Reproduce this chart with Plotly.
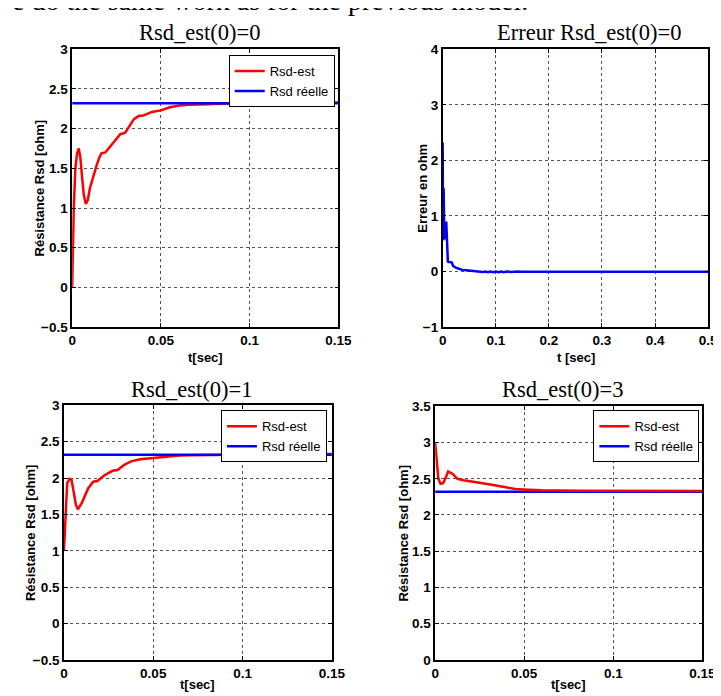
import plotly.graph_objects as go

W, H = 721, 696

# ---------------- data ----------------
rsd_reel = 2.32

# Plot 1 : Rsd_est(0)=0
t1 = [0, 0.0009, 0.0018, 0.0027, 0.0037, 0.0046, 0.0055, 0.0066, 0.0077, 0.0088,
      0.010, 0.0119, 0.0137, 0.0152, 0.0165, 0.0187, 0.0208, 0.0229, 0.025, 0.0271,
      0.0299, 0.032, 0.0348, 0.0375, 0.040, 0.0449, 0.050, 0.055, 0.0604, 0.066,
      0.0714, 0.078, 0.09, 0.11, 0.13, 0.15]
v1 = [0, 1.0, 1.49, 1.68, 1.75, 1.64, 1.41, 1.16, 1.05, 1.10,
      1.25, 1.41, 1.53, 1.63, 1.69, 1.70, 1.76, 1.82, 1.88, 1.93,
      1.95, 2.03, 2.12, 2.16, 2.165, 2.21, 2.23, 2.27, 2.29, 2.30,
      2.305, 2.31, 2.316, 2.325, 2.328, 2.328]

# Plot 2 : Erreur Rsd_est(0)=0
te = [0, 0.0004, 0.0008, 0.0018, 0.0025, 0.0031, 0.0043, 0.0055, 0.0067, 0.0074,
      0.008, 0.0089, 0.0098, 0.0122, 0.017, 0.0196, 0.0245, 0.0306, 0.037, 0.049,
      0.061, 0.07, 0.075, 0.08, 0.085, 0.09, 0.095, 0.10, 0.105, 0.11, 0.115,
      0.12, 0.13, 0.14, 0.15, 0.2, 0.3, 0.4, 0.5]
ve = [2.32, 1.2, 0.56, 1.5, 0.6, 0.58, 0.72, 0.62, 0.9, 0.7,
      0.56, 0.6, 0.18, 0.17, 0.165, 0.1, 0.07, 0.05, 0.03, 0.02,
      0.01, 0.0, -0.01, 0.0, -0.01, 0.0, -0.01, 0.0, -0.01, 0.0, -0.01,
      0.0, -0.008, 0.0, -0.005, -0.003, -0.003, -0.003, -0.003]

# Plot 3 : Rsd_est(0)=1
t3 = [0, 0.0009, 0.0018, 0.0031, 0.0042, 0.0055, 0.0067, 0.0078, 0.010, 0.0136,
      0.0164, 0.0187, 0.0227, 0.0273, 0.030, 0.0336, 0.0376, 0.0427, 0.050, 0.0573,
      0.0645, 0.071, 0.085, 0.10, 0.12, 0.15]
v3 = [1.0, 1.57, 1.93, 1.99, 1.98, 1.80, 1.63, 1.57, 1.66, 1.86,
      1.95, 1.96, 2.04, 2.10, 2.11, 2.18, 2.23, 2.26, 2.28, 2.30,
      2.31, 2.315, 2.32, 2.328, 2.33, 2.33]

# Plot 4 : Rsd_est(0)=3
t4 = [0, 0.0004, 0.0009, 0.0018, 0.003, 0.0045, 0.006, 0.0073, 0.0097, 0.0125,
      0.016, 0.0216, 0.031, 0.038, 0.045, 0.052, 0.06, 0.08, 0.10, 0.12, 0.15]
v4 = [3.0, 2.9, 2.72, 2.5, 2.43, 2.44, 2.52, 2.6, 2.57, 2.5,
      2.48, 2.46, 2.42, 2.39, 2.36, 2.35, 2.34, 2.335, 2.333, 2.333, 2.333]

t_ref_short = [0, 0.15]

# ---------------- figure ----------------
def px_x(p):
    return p / W

def px_y(p):
    return 1 - p / H

# subplot pixel boxes: (left, right, top, bottom)
boxes = {
    1: (61.7, 334.7, 35, 319),
    2: (441.7, 714, 35, 319),
    3: (53.3, 328, 399, 659),
    4: (434, 708, 400, 659),
}

RED = "#ff0000"
BLUE = "#0000ff"
LW = 2.5

fig = go.Figure()

fig.add_trace(go.Scatter(x=t1, y=v1, mode="lines", name="Rsd-est",
                         line=dict(color=RED, width=LW), xaxis="x", yaxis="y", legend="legend"))
fig.add_trace(go.Scatter(x=t_ref_short, y=[rsd_reel, rsd_reel], mode="lines", name="Rsd réelle",
                         line=dict(color=BLUE, width=LW), xaxis="x", yaxis="y", legend="legend"))
fig.add_trace(go.Scatter(x=te, y=ve, mode="lines", name="Erreur", showlegend=False,
                         line=dict(color=BLUE, width=LW), xaxis="x2", yaxis="y2"))
fig.add_trace(go.Scatter(x=t3, y=v3, mode="lines", name="Rsd-est",
                         line=dict(color=RED, width=LW), xaxis="x3", yaxis="y3", legend="legend2"))
fig.add_trace(go.Scatter(x=t_ref_short, y=[rsd_reel, rsd_reel], mode="lines", name="Rsd réelle",
                         line=dict(color=BLUE, width=LW), xaxis="x3", yaxis="y3", legend="legend2"))
fig.add_trace(go.Scatter(x=t_ref_short, y=[rsd_reel, rsd_reel], mode="lines", name="Rsd réelle",
                         line=dict(color=BLUE, width=LW), xaxis="x4", yaxis="y4", legend="legend3",
                         legendrank=2))
fig.add_trace(go.Scatter(x=t4, y=v4, mode="lines", name="Rsd-est",
                         line=dict(color=RED, width=LW), xaxis="x4", yaxis="y4", legend="legend3",
                         legendrank=1))

SANS = "Liberation Sans, Arial"
tickfont = dict(family=SANS, size=13.5, color="black", weight="bold")

def axis_common():
    return dict(showline=True, linecolor="black", linewidth=1.5, mirror="ticks",
                ticks="inside", ticklen=4, tickcolor="black", tickwidth=1,
                showgrid=True, gridcolor="#555555", griddash="dot", gridwidth=1,
                zeroline=False, tickfont=tickfont, fixedrange=True)

ranges = {
    1: ([0, 0.15], [-0.5, 3], 0.05, 0.5),
    2: ([0, 0.5], [-1, 4], 0.1, 1),
    3: ([0, 0.15], [-0.5, 3], 0.05, 0.5),
    4: ([0, 0.15], [0, 3.5], 0.05, 0.5),
}

layout = dict(width=W, height=H, margin=dict(l=0, r=0, t=0, b=0),
              paper_bgcolor="white", plot_bgcolor="white")

for i in range(1, 5):
    l, r, t, b = boxes[i]
    xr, yr, dx, dy = ranges[i]
    suffix = "" if i == 1 else str(i)
    xa = axis_common()
    xa.update(domain=[px_x(l), px_x(r)], range=xr, dtick=dx, tick0=0,
              anchor="y" + suffix)
    ya = axis_common()
    ya.update(domain=[px_y(b), px_y(t)], range=yr, dtick=dy, tick0=0,
              anchor="x" + suffix)
    layout["xaxis" + suffix] = xa
    layout["yaxis" + suffix] = ya

legend_style = dict(bgcolor="white", bordercolor="black", borderwidth=1,
                    font=dict(family=SANS, size=13, color="black"),
                    xanchor="right", yanchor="top", itemwidth=30, tracegroupgap=0,
                    traceorder="normal")
layout["legend"] = dict(x=px_x(331), y=px_y(41), **legend_style)
layout["legend2"] = dict(x=px_x(323), y=px_y(404), **legend_style)
layout["legend3"] = dict(x=px_x(705), y=px_y(404), **legend_style)

fig.update_layout(**layout)

serif = dict(family="Liberation Serif, Times New Roman", size=22.5, color="black")
label_font = dict(family=SANS, size=13, color="black", weight="bold")

annotations = [
    # cropped caption at the very top
    dict(text="e do the same work as for the previous model.", x=px_x(-2), y=px_y(3),
         xanchor="left", yanchor="bottom",
         font=dict(family="Liberation Serif, Times New Roman", size=28, color="black")),
    # titles
    dict(text="Rsd_est(0)=0", x=px_x(192), y=px_y(18), xanchor="center", yanchor="middle", font=serif),
    dict(text="Erreur Rsd_est(0)=0", x=px_x(592), y=px_y(18), xanchor="center", yanchor="middle", font=serif),
    dict(text="Rsd_est(0)=1", x=px_x(184), y=px_y(383), xanchor="center", yanchor="middle", font=serif),
    dict(text="Rsd_est(0)=3", x=px_x(565), y=px_y(383), xanchor="center", yanchor="middle", font=serif),
    # x-axis titles
    dict(text="t[sec]", x=px_x(198), y=px_y(350), xanchor="center", yanchor="middle", font=label_font),
    dict(text="t [sec]", x=px_x(578), y=px_y(350), xanchor="center", yanchor="middle", font=label_font),
    dict(text="t[sec]", x=px_x(190), y=px_y(684), xanchor="center", yanchor="middle", font=label_font),
    dict(text="t[sec]", x=px_x(571), y=px_y(684), xanchor="center", yanchor="middle", font=label_font),
    # y-axis titles
    dict(text="Résistance Rsd [ohm]", x=px_x(28), y=px_y(177), textangle=-90,
         xanchor="center", yanchor="middle", font=label_font),
    dict(text="Erreur en ohm", x=px_x(421), y=px_y(177), textangle=-90,
         xanchor="center", yanchor="middle", font=label_font),
    dict(text="Résistance Rsd [ohm]", x=px_x(19), y=px_y(529), textangle=-90,
         xanchor="center", yanchor="middle", font=label_font),
    dict(text="Résistance Rsd [ohm]", x=px_x(402), y=px_y(529), textangle=-90,
         xanchor="center", yanchor="middle", font=label_font),
]
for a in annotations:
    a.update(xref="paper", yref="paper", showarrow=False)
fig.update_layout(annotations=annotations)

fig.write_html("out.html")
